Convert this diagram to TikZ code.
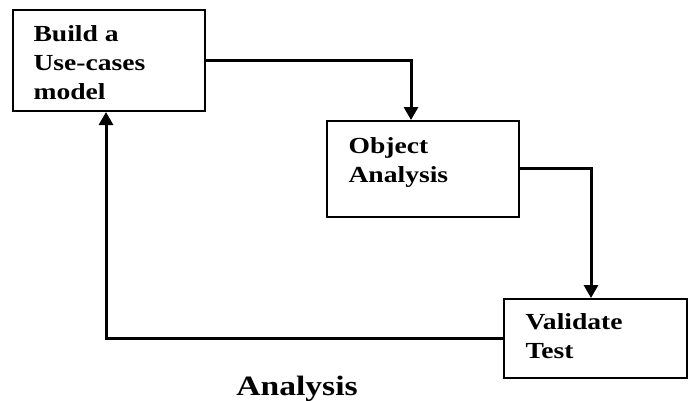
\documentclass[tikz,border=0pt]{standalone}
\usepackage{fontspec}
\setmainfont{Liberation Serif}[FakeStretch=1.2]
\usetikzlibrary{arrows.meta}
\begin{document}
\begin{tikzpicture}[x=1pt,y=-1pt,
  box/.style={draw,line width=2pt,anchor=north west,inner sep=0pt},
  lbl/.style={anchor=north west,align=left,font=\fontsize{23}{29}\selectfont\bfseries},
  conn/.style={line width=3pt,-{Triangle[length=13pt,width=14pt]}}]
\useasboundingbox (0,0) rectangle (689,400);
\node[box,minimum width=192pt,minimum height=101pt] (b1) at (12,9) {};
\node[box,minimum width=192pt,minimum height=96pt] (b2) at (326,120) {};
\node[box,minimum width=183pt,minimum height=79pt] (b3) at (503,298) {};
\node[lbl] (t1) at (30,22) {Build a\\Use-cases\\model};
\node[lbl] (t2) at (345,134) {Object\\Analysis};
\node[lbl] (t3) at (522,310) {Validate\\Test};
\node[font=\fontsize{28}{32}\selectfont\bfseries,anchor=base] (ttl) at (297,395) {Analysis};
\draw[conn] (b1.east |- 0,60) -| (b2.north -| 411,0);
\draw[conn] (b2.east |- 0,168) -| (b3.north -| 591,0);
\draw[conn] (b3.west |- 0,338) -| (b1.south -| 106,0);
\end{tikzpicture}
\end{document}
